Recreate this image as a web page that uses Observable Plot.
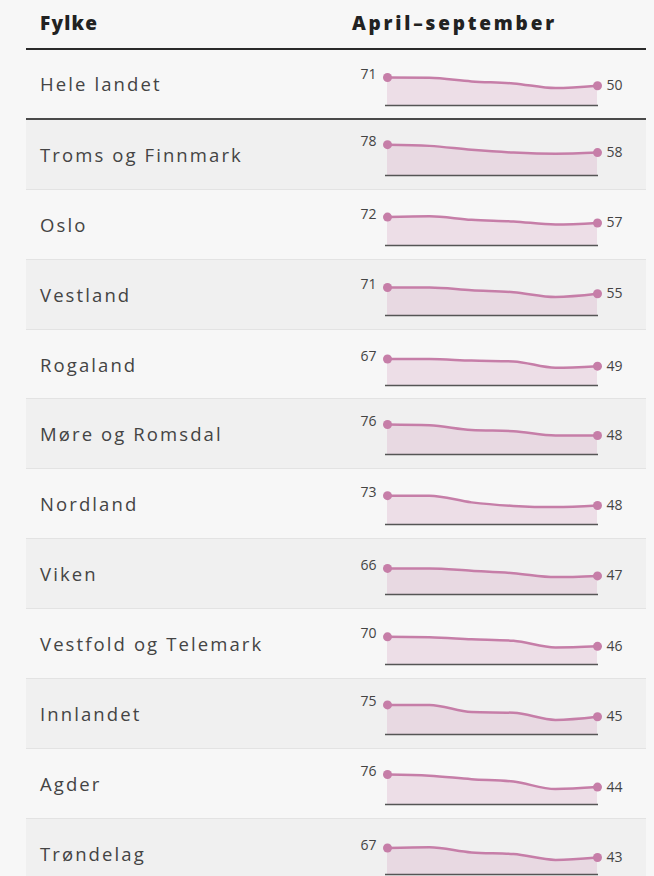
<!DOCTYPE html>
<html>
<head>
<meta charset="utf-8">
<script src="https://cdn.jsdelivr.net/npm/d3@7"></script>
<script src="https://cdn.jsdelivr.net/npm/@observablehq/plot@0.6"></script>
<style>
  html, body { margin: 0; padding: 0; }
  body { background: #f7f7f7; width: 654px; height: 876px; overflow: hidden; font-family: "Open Sans", Lato, sans-serif; color: #333; }
  #wrap { position: relative; margin-left: 26px; width: 620px; }
  .head { position: relative; height: 48px; border-bottom: 2px solid #2a2a2a; font-weight: 800; font-size: 19px; color: #222; }
  .head span { position: absolute; top: 10px; }
  .row { position: relative; height: 69.9px; box-sizing: border-box; border-bottom: 1px solid #e3e3e3; }
  .row.odd { background: #f0f0f0; }
  .row.first { border-bottom: 2px solid #4a4a4a; }
  .row .lab { position: absolute; left: 14px; top: 0; height: 100%; display: flex; align-items: center; font-size: 18.5px; color: #444; letter-spacing: 2.1px; }
  .row .spark { position: absolute; left: 314px; top: 0; }
</style>
</head>
<body>
<div id="wrap"></div>
<script>
const headers = ["Fylke", "April–september"];
const counties = ["Hele landet", "Troms og Finnmark", "Oslo", "Vestland", "Rogaland", "Møre og Romsdal", "Nordland", "Viken", "Vestfold og Telemark", "Innlandet", "Agder", "Trøndelag"];
const months = ["april", "mai", "juni", "juli", "august", "september"];
const helelandet = [71, 70, 61, 56, 44, 50];
const troms = [78, 75, 65, 58, 55, 58];
const oslo = [72, 74, 65, 61, 53, 57];
const vestland = [71, 71, 64, 59, 47, 55];
const rogaland = [67, 67, 63, 61, 45, 49];
const more = [76, 74, 62, 59, 48, 48];
const nordland = [73, 73, 56, 47, 44, 48];
const viken = [66, 66, 60, 54, 44, 47];
const vestfold = [70, 69, 64, 60, 43, 46];
const innlandet = [75, 75, 57, 55, 37, 45];
const agder = [76, 73, 64, 58, 39, 44];
const trondelag = [67, 69, 56, 52, 37, 43];
const seriesList = [helelandet, troms, oslo, vestland, rogaland, more, nordland, viken, vestfold, innlandet, agder, trondelag];

const pink = "#c67ea8";
const wrap = document.getElementById("wrap");

const head = document.createElement("div");
head.className = "head";
head.innerHTML = `<span style="left:14px;letter-spacing:1.2px">${headers[0]}</span><span style="left:326px;letter-spacing:2.8px">${headers[1]}</span>`;
wrap.appendChild(head);

counties.forEach((name, i) => {
  const row = document.createElement("div");
  row.className = "row" + (i % 2 === 1 ? " odd" : "") + (i === 0 ? " first" : "");
  const lab = document.createElement("div");
  lab.className = "lab";
  lab.textContent = name;
  row.appendChild(lab);

  const data = months.map((m, j) => ({month: m, value: seriesList[i][j]}));
  const first = [data[0]];
  const last = [data[data.length - 1]];

  const chart = Plot.plot({
    width: 300,
    height: 70,
    marginLeft: 45,
    marginRight: 42,
    marginTop: 15.5,
    marginBottom: 15,
    x: {type: "point", domain: months, padding: 0, axis: null},
    y: {domain: [0, 100], axis: null},
    style: {background: "transparent", fontFamily: "'Open Sans', sans-serif", overflow: "visible"},
    marks: [
      Plot.areaY(data, {x: "month", y: "value", fill: pink, fillOpacity: 0.2, curve: "monotone-x"}),
      Plot.ruleY([0], {stroke: "#555", strokeWidth: 1.5}),
      Plot.lineY(data, {x: "month", y: "value", stroke: pink, strokeWidth: 2.5, curve: "monotone-x"}),
      Plot.dot(first.concat(last), {x: "month", y: "value", r: 4.5, fill: pink}),
      Plot.text(first, {x: "month", y: "value", text: d => String(d.value), textAnchor: "end", dx: -11, dy: -3, fontSize: 14, fill: "#444"}),
      Plot.text(last, {x: "month", y: "value", text: d => String(d.value), textAnchor: "start", dx: 9, dy: 0, fontSize: 14, fill: "#444"})
    ]
  });
  chart.classList.add("spark");
  row.appendChild(chart);
  wrap.appendChild(row);
});
</script>
</body>
</html>
